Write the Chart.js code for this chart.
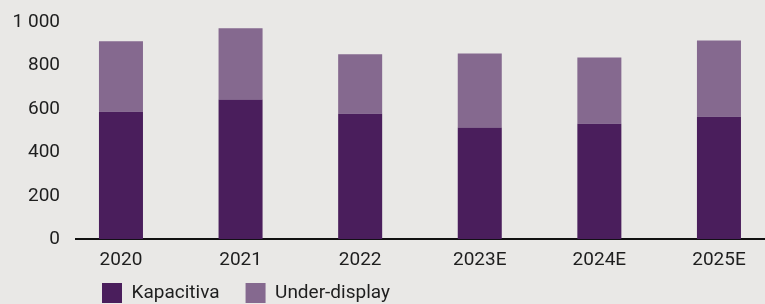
<!DOCTYPE html>
<html>
<head>
<meta charset="utf-8">
<script src="https://cdn.jsdelivr.net/npm/chart.js@4"></script>
<style>
  body { margin: 0; background: #e9e8e6; }
  #wrap { width: 765px; height: 304px; position: relative; }
</style>
</head>
<body>
<div id="wrap"><canvas id="myChart"></canvas></div>
<script>
// Data
const years = ["2020", "2021", "2022", "2023E", "2024E", "2025E"];
const kapacitiva = [587, 643, 578, 514, 532, 564];
const underDisplay = [324, 328, 273, 341, 305, 351];
const yTicks = [0, 200, 400, 600, 800, 1000];

const darkPurple = "#4a1e5c";
const lightPurple = "#85698f";
const textColor = "#1e1e1e";

Chart.defaults.font.family = "Roboto";
Chart.defaults.font.size = 19;
Chart.defaults.color = textColor;

// "1 000" style numbers
function formatNum(v) {
    return String(v).replace(/\B(?=(\d{3})+(?!\d))/g, " ");
}

// legend sits closer to the axis labels than its item spacing
const legendNudge = {
    id: "legendNudge",
    afterLayout(chart) {
        chart.legend.top -= 25;
    }
};

const ctx = document.getElementById("myChart");

new Chart(ctx, {
    type: "bar",
    data: {
        labels: years,
        datasets: [
            { label: "Kapacitiva", data: kapacitiva, backgroundColor: darkPurple },
            { label: "Under-display", data: underDisplay, backgroundColor: lightPurple }
        ]
    },
    plugins: [legendNudge],
    options: {
        responsive: true,
        maintainAspectRatio: false,
        animation: false,
        barPercentage: 0.368,
        categoryPercentage: 1,
        layout: { padding: { top: 22, right: 0, left: 0, bottom: 0 } },
        scales: {
            x: {
                stacked: true,
                grid: { display: false, drawTicks: false },
                border: { display: true, color: "#111", width: 2 },
                ticks: { padding: 10, maxRotation: 0 },
                // the bars sit a bit off the centre of the drawn axis
                afterBuildTicks: (s) => { s._startValue = -0.376; s._valueRange = 5.761; }
            },
            y: {
                stacked: true,
                min: 0,
                max: 1000,
                grid: { display: false, drawTicks: false },
                border: { display: false },
                afterFit: (s) => { s.width = 76; s.paddingTop = 0; s.paddingBottom = 0; },
                afterBuildTicks: (s) => { s.ticks = yTicks.map(v => ({ value: v })); },
                ticks: { padding: 16, callback: (v) => formatNum(v) }
            }
        },
        plugins: {
            tooltip: { enabled: false },
            legend: {
                position: "bottom",
                align: "start",
                fullSize: false,
                maxHeight: 22,
                labels: { boxWidth: 20, boxHeight: 20, padding: 26 }
            }
        }
    }
});
</script>
</body>
</html>
